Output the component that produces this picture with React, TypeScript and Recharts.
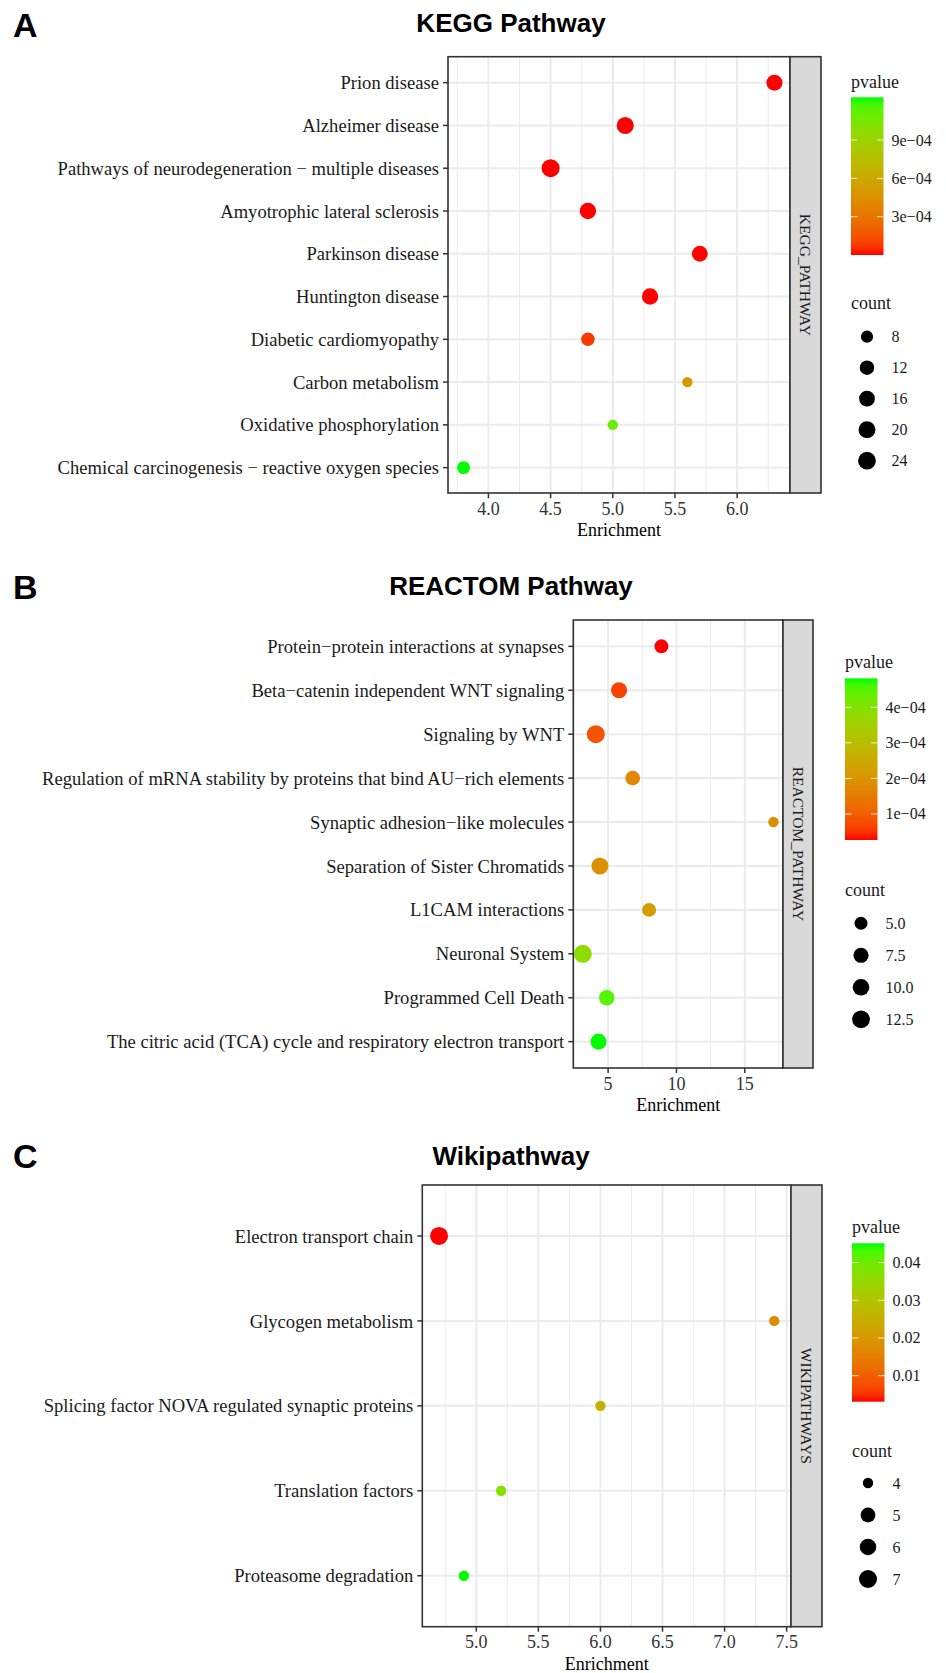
import React from "react";
import { CartesianGrid, Scatter, ScatterChart, XAxis, YAxis } from "recharts";

// ---- KEGG ----
const keggTerms = [
  "Prion disease",
  "Alzheimer disease",
  "Pathways of neurodegeneration \u2212 multiple diseases",
  "Amyotrophic lateral sclerosis",
  "Parkinson disease",
  "Huntington disease",
  "Diabetic cardiomyopathy",
  "Carbon metabolism",
  "Oxidative phosphorylation",
  "Chemical carcinogenesis \u2212 reactive oxygen species",
];
const keggEnrichment = [6.3, 5.1, 4.5, 4.8, 5.7, 5.3, 4.8, 5.6, 5.0, 3.8];
const keggCount = [17, 21, 25, 18, 16, 18, 10, 7, 7, 9];
const keggPvalue = [2e-9, 4e-8, 1e-8, 6e-7, 2.5e-6, 1.2e-6, 7.5e-5, 5.1e-4, 1.1e-3, 1.235e-3];
const keggTicks = [4.0, 4.5, 5.0, 5.5, 6.0];
const keggMinor = [3.75, 4.25, 4.75, 5.25, 5.75, 6.25];
const keggPBreaks = [3e-4, 6e-4, 9e-4];
const keggPLabels = ["3e\u221204", "6e\u221204", "9e\u221204"];
const keggCountBreaks = [8, 12, 16, 20, 24];
const keggCountLabels = ["8", "12", "16", "20", "24"];

// ---- REACTOME ----
const reactomTerms = [
  "Protein\u2212protein interactions at synapses",
  "Beta\u2212catenin independent WNT signaling",
  "Signaling by WNT",
  "Regulation of mRNA stability by proteins that bind AU\u2212rich elements",
  "Synaptic adhesion\u2212like molecules",
  "Separation of Sister Chromatids",
  "L1CAM interactions",
  "Neuronal System",
  "Programmed Cell Death",
  "The citric acid (TCA) cycle and respiratory electron transport",
];
const reactomEnrichment = [8.9, 5.8, 4.1, 6.8, 17.1, 4.4, 8.0, 3.15, 4.9, 4.3];
const reactomCount = [6, 9, 13, 7, 4, 11, 6, 13, 8, 9];
const reactomPvalue = [2.69e-5, 6.2e-5, 8.5e-5, 1.75e-4, 1.85e-4, 1.95e-4, 2.2e-4, 3.85e-4, 4.5e-4, 4.815e-4];
const reactomTicks = [5, 10, 15];
const reactomMinor = [2.5, 7.5, 12.5, 17.5];
const reactomPBreaks = [1e-4, 2e-4, 3e-4, 4e-4];
const reactomPLabels = ["1e\u221204", "2e\u221204", "3e\u221204", "4e\u221204"];
const reactomCountBreaks = [5, 7.5, 10, 12.5];
const reactomCountLabels = ["5.0", "7.5", "10.0", "12.5"];

// ---- WikiPathways ----
const wikiTerms = [
  "Electron transport chain",
  "Glycogen metabolism",
  "Splicing factor NOVA regulated synaptic proteins",
  "Translation factors",
  "Proteasome degradation",
];
const wikiEnrichment = [4.7, 7.4, 6.0, 5.2, 4.9];
const wikiCount = [7, 4, 4, 4, 4];
const wikiPvalue = [0.0031, 0.0178, 0.0255, 0.0375, 0.0451];
const wikiTicks = [5.0, 5.5, 6.0, 6.5, 7.0, 7.5];
const wikiMinor = [4.75, 5.25, 5.75, 6.25, 6.75, 7.25];
const wikiPBreaks = [0.01, 0.02, 0.03, 0.04];
const wikiPLabels = ["0.01", "0.02", "0.03", "0.04"];
const wikiCountBreaks = [4, 5, 6, 7];
const wikiCountLabels = ["4", "5", "6", "7"];

const W = 946;
const H = 1673;
const SERIF = "'Liberation Serif', 'Times New Roman', serif";
const SANS = "'Liberation Sans', Arial, sans-serif";

// red -> green gradient interpolated in CIELAB, like ggplot's scale_colour_gradient
const toLin = (c: number) => {
  const v = c / 255;
  return v <= 0.04045 ? v / 12.92 : Math.pow((v + 0.055) / 1.055, 2.4);
};
const fromLin = (v: number) => {
  const c = v <= 0.0031308 ? 12.92 * v : 1.055 * Math.pow(Math.max(v, 0), 1 / 2.4) - 0.055;
  return Math.round(Math.max(0, Math.min(1, c)) * 255);
};
const fLab = (t: number) => (t > 216 / 24389 ? Math.cbrt(t) : ((24389 / 27) * t + 16) / 116);
const fInv = (t: number) => (t * t * t > 216 / 24389 ? t * t * t : (116 * t - 16) / (24389 / 27));
const toLab = (rgb: number[]) => {
  const [r, g, b] = rgb.map(toLin);
  const x = (0.4124 * r + 0.3576 * g + 0.1805 * b) / 0.95047;
  const y = 0.2126 * r + 0.7152 * g + 0.0722 * b;
  const z = (0.0193 * r + 0.1192 * g + 0.9505 * b) / 1.08883;
  return [116 * fLab(y) - 16, 500 * (fLab(x) - fLab(y)), 200 * (fLab(y) - fLab(z))];
};
const fromLab = ([L, a, bb]: number[]) => {
  const fy = (L + 16) / 116;
  const x = 0.95047 * fInv(fy + a / 500);
  const y = fInv(fy);
  const z = 1.08883 * fInv(fy - bb / 200);
  const r = 3.2406 * x - 1.5372 * y - 0.4986 * z;
  const g = -0.9689 * x + 1.8758 * y + 0.0415 * z;
  const b = 0.0557 * x - 0.204 * y + 1.057 * z;
  return `rgb(${fromLin(r)},${fromLin(g)},${fromLin(b)})`;
};
const LOW = toLab([255, 0, 0]);
const HIGH = toLab([0, 255, 0]);
const rampColor = (t: number) => fromLab(LOW.map((v, i) => v + (HIGH[i] - v) * t));

const sizeOf = (c: number, lo: number, hi: number) =>
  (10.4 + 7.6 * Math.sqrt(Math.max(0, (c - lo) / (hi - lo)))) / 2;

type Layout = {
  top: number; bottom: number; left: number; right: number; stripW: number;
  titleY: number; letterY: number;
  legX: number; pTitleY: number; barTop: number; barBottom: number;
  countTitleY: number; countY0: number; countStep: number;
};

type Panel = {
  letter: string; title: string; strip: string;
  terms: string[]; enrichment: number[]; count: number[]; pvalue: number[];
  ticks: number[]; minor: number[]; fmt: (v: number) => string;
  pBreaks: number[]; pLabels: string[]; countBreaks: number[]; countLabels: string[];
  layout: Layout;
};

const panels: Panel[] = [
  {
    letter: "A", title: "KEGG Pathway", strip: "KEGG_PATHWAY",
    terms: keggTerms, enrichment: keggEnrichment, count: keggCount, pvalue: keggPvalue,
    ticks: keggTicks, minor: keggMinor, fmt: (v) => v.toFixed(1),
    pBreaks: keggPBreaks, pLabels: keggPLabels, countBreaks: keggCountBreaks, countLabels: keggCountLabels,
    layout: {
      top: 56.7, bottom: 493, left: 448, right: 790, stripW: 31, titleY: 32, letterY: 37,
      legX: 851, pTitleY: 82, barTop: 97.3, barBottom: 255,
      countTitleY: 303, countY0: 336.7, countStep: 31,
    },
  },
  {
    letter: "B", title: "REACTOM Pathway", strip: "REACTOM_PATHWAY",
    terms: reactomTerms, enrichment: reactomEnrichment, count: reactomCount, pvalue: reactomPvalue,
    ticks: reactomTicks, minor: reactomMinor, fmt: (v) => String(v),
    pBreaks: reactomPBreaks, pLabels: reactomPLabels, countBreaks: reactomCountBreaks, countLabels: reactomCountLabels,
    layout: {
      top: 620, bottom: 1068, left: 573.3, right: 783, stripW: 30, titleY: 595, letterY: 599,
      legX: 845, pTitleY: 662, barTop: 678.3, barBottom: 840,
      countTitleY: 890, countY0: 923.3, countStep: 32,
    },
  },
  {
    letter: "C", title: "Wikipathway", strip: "WIKIPATHWAYS",
    terms: wikiTerms, enrichment: wikiEnrichment, count: wikiCount, pvalue: wikiPvalue,
    ticks: wikiTicks, minor: wikiMinor, fmt: (v) => v.toFixed(1),
    pBreaks: wikiPBreaks, pLabels: wikiPLabels, countBreaks: wikiCountBreaks, countLabels: wikiCountLabels,
    layout: {
      top: 1185, bottom: 1626.7, left: 422.3, right: 791, stripW: 31, titleY: 1165, letterY: 1168,
      legX: 852, pTitleY: 1227, barTop: 1243.3, barBottom: 1401.7,
      countTitleY: 1451, countY0: 1483, countStep: 32,
    },
  },
];

const renderDot = (props: any) => {
  const { cx, cy, payload } = props;
  if (cx == null || cy == null) return <g />;
  return <circle cx={cx} cy={cy} r={payload.r} fill={payload.color} />;
};

function PathwayChart({ panel }: { panel: Panel }) {
  const L = panel.layout;
  const n = panel.terms.length;
  const eMin = Math.min(...panel.enrichment);
  const eMax = Math.max(...panel.enrichment);
  const pad = (eMax - eMin) * 0.05;
  const domain = [eMin - pad, eMax + pad];
  const cMin = Math.min(...panel.count);
  const cMax = Math.max(...panel.count);
  const pMin = Math.min(...panel.pvalue);
  const pMax = Math.max(...panel.pvalue);
  const rows = panel.terms.map((term, i) => ({
    term,
    rank: n - 1 - i,
    enrichment: panel.enrichment[i],
    r: sizeOf(panel.count[i], cMin, cMax),
    color: rampColor((panel.pvalue[i] - pMin) / (pMax - pMin)),
  }));
  const ranks = rows.map((r) => r.rank).sort((a, b) => a - b);
  const top = L.top - 10;
  const height = L.bottom - L.top + 10 + 60;
  return (
    <div style={{ position: "absolute", left: 0, top, width: W, height }}>
      <ScatterChart
        width={W}
        height={height}
        margin={{ top: 10, right: W - L.right, bottom: 0, left: 0 }}
      >
        <CartesianGrid
          xAxisId="minor"
          stroke="#ebebeb"
          strokeWidth={1}
          horizontal={false}
          syncWithTicks
        />
        <CartesianGrid stroke="#ebebeb" strokeWidth={2} syncWithTicks />
        <XAxis
          xAxisId="minor"
          type="number"
          dataKey="enrichment"
          domain={domain}
          allowDataOverflow
          ticks={panel.minor}
          interval={0}
          hide
        />
        <XAxis
          type="number"
          dataKey="enrichment"
          domain={domain}
          allowDataOverflow
          ticks={panel.ticks}
          interval={0}
          tickFormatter={panel.fmt}
          height={60}
          tickSize={5}
          tickMargin={4}
          axisLine={false}
          tickLine={{ stroke: "#333", strokeWidth: 1.5 }}
          tick={{ fill: "#333", fontSize: 18, fontFamily: SERIF }}
        />
        <YAxis
          type="number"
          dataKey="rank"
          domain={[-0.6, n - 0.4]}
          allowDataOverflow
          ticks={ranks}
          interval={0}
          tickFormatter={(v: number) => panel.terms[n - 1 - v]}
          width={L.left}
          tickSize={5}
          tickMargin={4}
          axisLine={false}
          tickLine={{ stroke: "#333", strokeWidth: 1.5 }}
          tick={{ fill: "#1a1a1a", fontSize: 18.6, fontFamily: SERIF }}
        />
        <Scatter data={rows} shape={renderDot} isAnimationActive={false} />
      </ScatterChart>
    </div>
  );
}

function Decorations({ panel, idx }: { panel: Panel; idx: number }) {
  const L = panel.layout;
  const pMin = Math.min(...panel.pvalue);
  const pMax = Math.max(...panel.pvalue);
  const cMin = Math.min(...panel.count);
  const cMax = Math.max(...panel.count);
  const barW = 32.5;
  const barH = L.barBottom - L.barTop;
  const gid = `grad${idx}`;
  const stops = Array.from({ length: 21 }, (_, i) => i / 20);
  const stripX = L.right;
  const stripCx = stripX + L.stripW / 2;
  const stripCy = (L.top + L.bottom) / 2;
  const dotX = L.legX + 16;
  return (
    <g>
      <text x={13} y={L.letterY} fontFamily={SANS} fontWeight="bold" fontSize={34} fill="#000">
        {panel.letter}
      </text>
      <text x={511} y={L.titleY} textAnchor="middle" fontFamily={SANS} fontWeight="bold" fontSize={26} fill="#000">
        {panel.title}
      </text>
      <rect x={L.left} y={L.top} width={L.right - L.left} height={L.bottom - L.top} fill="none" stroke="#333" strokeWidth={1.6} />
      <rect x={stripX} y={L.top} width={L.stripW} height={L.bottom - L.top} fill="#d9d9d9" stroke="#333" strokeWidth={1.6} />
      <text
        x={stripCx}
        y={stripCy}
        transform={`rotate(90 ${stripCx} ${stripCy})`}
        textAnchor="middle"
        dominantBaseline="central"
        fontFamily={SERIF}
        fontSize={15.5}
        fill="#1a1a1a"
      >
        {panel.strip}
      </text>
      <text x={(L.left + L.right) / 2} y={L.bottom + 43} textAnchor="middle" fontFamily={SERIF} fontSize={18} fill="#000">
        Enrichment
      </text>

      <defs>
        <linearGradient id={gid} x1="0" y1="1" x2="0" y2="0">
          {stops.map((t) => (
            <stop key={t} offset={t} stopColor={rampColor(t)} />
          ))}
        </linearGradient>
      </defs>
      <text x={L.legX} y={L.pTitleY} dominantBaseline="central" fontFamily={SERIF} fontSize={18} fill="#1a1a1a">
        pvalue
      </text>
      <rect x={L.legX} y={L.barTop} width={barW} height={barH} fill={`url(#${gid})`} />
      {panel.pBreaks.map((b, i) => {
        const y = L.barBottom - ((b - pMin) / (pMax - pMin)) * barH;
        return (
          <g key={b}>
            <line x1={L.legX} x2={L.legX + 6.5} y1={y} y2={y} stroke="#fff" strokeOpacity={0.8} strokeWidth={1} />
            <line x1={L.legX + barW - 6.5} x2={L.legX + barW} y1={y} y2={y} stroke="#fff" strokeOpacity={0.8} strokeWidth={1} />
            <text x={L.legX + barW + 8} y={y} dominantBaseline="central" fontFamily={SERIF} fontSize={16} fill="#1a1a1a">
              {panel.pLabels[i]}
            </text>
          </g>
        );
      })}
      <text x={L.legX} y={L.countTitleY} dominantBaseline="central" fontFamily={SERIF} fontSize={18} fill="#1a1a1a">
        count
      </text>
      {panel.countBreaks.map((c, i) => {
        const y = L.countY0 + i * L.countStep;
        return (
          <g key={c}>
            <circle cx={dotX} cy={y} r={sizeOf(c, cMin, cMax)} fill="#000" />
            <text x={L.legX + barW + 8} y={y} dominantBaseline="central" fontFamily={SERIF} fontSize={16} fill="#1a1a1a">
              {panel.countLabels[i]}
            </text>
          </g>
        );
      })}
    </g>
  );
}

export default function App() {
  return (
    <div style={{ position: "absolute", left: 0, top: 0, width: W, height: H, background: "#fff", overflow: "hidden" }}>
      {panels.map((p, i) => (
        <PathwayChart key={i} panel={p} />
      ))}
      <svg
        width={W}
        height={H}
        style={{ position: "absolute", left: 0, top: 0, pointerEvents: "none" }}
      >
        {panels.map((p, i) => (
          <Decorations key={i} panel={p} idx={i} />
        ))}
      </svg>
    </div>
  );
}
